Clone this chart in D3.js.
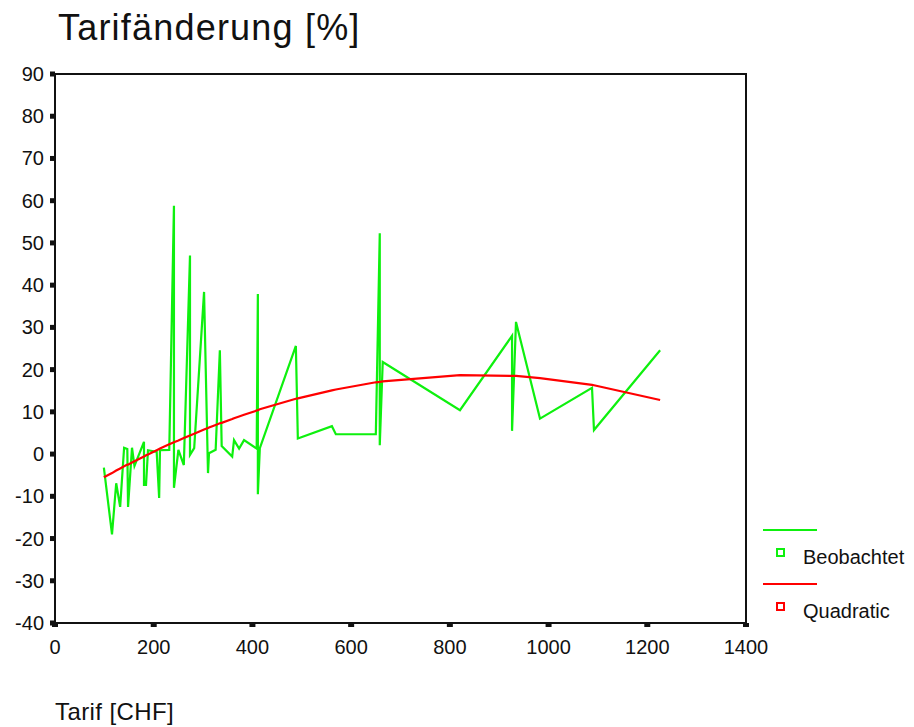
<!DOCTYPE html>
<html>
<head>
<meta charset="utf-8">
<script src="https://cdn.jsdelivr.net/npm/d3@7"></script>
<style>
  body { margin: 0; background: #fff; }
  svg { display: block; font-family: "Liberation Sans", Arial, sans-serif; }
  .frame { fill: none; stroke: #111; stroke-width: 2; }
  .tick { stroke: #111; }
  .lbl { font-size: 20px; fill: #111; }
</style>
</head>
<body>
<svg id="chart" width="914" height="727"></svg>
<script>
// observed tariffs (x, CHF) in plot order, and the observed change in %
const tarif = [99, 115.5, 124, 132, 140, 146.5, 148, 156, 161, 180.3, 180.3, 184.4, 188.4, 206, 211, 212.7,
  231.5, 241, 241, 250, 261, 273.5, 273.5, 282, 302, 310, 312, 325.5, 334, 337.7, 359, 362.7, 373, 383,
  408.6, 411, 411, 415, 488, 492, 561, 569, 650, 658, 658, 664, 820.5, 926, 926, 934, 982.6, 1088, 1092, 1226];
const beobachtet = [-3.2, -19, -6.9, -12.5, 1.5, 1.2, -12.5, 1.5, -2.8, 2.9, -7.3, -7.3, 0.9, 0.5, -10.4, 0.9,
  1, 58.8, -8, 1, -2.6, 47, -0.2, 1.4, 38.4, -4.5, 0.2, 1, 24.6, 1.9, -0.6, 3.3, 1.3, 3.3,
  1.3, 37.9, -9.5, 1.4, 25.6, 3.7, 6.6, 4.7, 4.7, 52.3, 2.1, 21.8, 10.4, 28, 5.5, 31.3, 8.4, 15.7, 5.7, 24.6];
// quadratic fit, at the same tariffs
const quadratic = [-5.5, -4.5, -3.9, -3.4, -2.9, -2.5, -2.5, -2.0, -1.7, -0.6, -0.6, -0.3, -0.1, 0.9, 1.2, 1.3,
  2.3, 2.8, 2.8, 3.2, 3.8, 4.4, 4.4, 4.8, 5.8, 6.2, 6.3, 6.9, 7.3, 7.4, 8.3, 8.5, 8.9, 9.3,
  10.3, 10.4, 10.4, 10.6, 13.1, 13.2, 15.1, 15.3, 17.0, 17.1, 17.1, 17.2, 18.7, 18.5, 18.5, 18.5, 18.0, 16.4, 16.3, 12.8];

const xTicks = [0, 200, 400, 600, 800, 1000, 1200, 1400];
const yTicks = [90, 80, 70, 60, 50, 40, 30, 20, 10, 0, -10, -20, -30, -40];
const legendItems = [
  { name: 'Beobachtet', color: '#0ef00e' },
  { name: 'Quadratic',  color: '#ff0000' }
];

const svg = d3.select('#chart');
const L = 55, R = 746, T = 74, B = 623;
const x = d3.scaleLinear().domain([0, 1400]).range([L, R]);
const y = d3.scaleLinear().domain([-40, 90]).range([B, T]);

// title and x caption (SPSS puts both at the left edge)
svg.append('text').attr('x', 58).attr('y', 40).attr('font-size', 36).attr('letter-spacing', 1.2)
  .attr('fill', '#111').text('Tarifänderung [%]');
svg.append('text').attr('x', 55).attr('y', 720).attr('font-size', 24).attr('letter-spacing', 0.4)
  .attr('fill', '#111').text('Tarif [CHF]');

// series
const pts = d3.range(tarif.length);
const line = vals => d3.line().x(i => x(tarif[i])).y(i => y(vals[i]))(pts);
svg.append('path').attr('d', line(beobachtet))
  .attr('fill', 'none').attr('stroke', legendItems[0].color).attr('stroke-width', 2.2);
svg.append('path').attr('d', line(quadratic))
  .attr('fill', 'none').attr('stroke', legendItems[1].color).attr('stroke-width', 2.2);

// frame
svg.append('rect').attr('class', 'frame').attr('x', L).attr('y', T).attr('width', R - L).attr('height', B - T);

// axes: tick squares outside the frame + labels
svg.append('g').selectAll('line').data(yTicks).join('line').attr('class', 'tick')
  .attr('x1', L - 5).attr('x2', L).attr('y1', d => y(d)).attr('y2', d => y(d)).attr('stroke-width', 5);
svg.append('g').selectAll('text').data(yTicks).join('text').attr('class', 'lbl')
  .attr('x', 44).attr('y', d => y(d) + 7).attr('text-anchor', 'end').text(d => d);
svg.append('g').selectAll('line').data(xTicks).join('line').attr('class', 'tick')
  .attr('x1', d => x(d)).attr('x2', d => x(d)).attr('y1', B).attr('y2', B + 4).attr('stroke-width', 6);
svg.append('g').selectAll('text').data(xTicks).join('text').attr('class', 'lbl')
  .attr('x', d => x(d)).attr('y', 654).attr('text-anchor', 'middle').text(d => d);

// legend: line sample, then hollow square + name
const lg = svg.append('g').selectAll('g').data(legendItems).join('g')
  .attr('transform', (d, i) => `translate(0,${530 + i * 54})`);
lg.append('line').attr('x1', 763).attr('x2', 817).attr('y1', 0).attr('y2', 0)
  .attr('stroke', d => d.color).attr('stroke-width', 2);
lg.append('rect').attr('x', 777).attr('y', 19).attr('width', 7).attr('height', 7)
  .attr('fill', 'none').attr('stroke', d => d.color).attr('stroke-width', 2);
lg.append('text').attr('class', 'lbl').attr('x', 803).attr('y', 34).attr('font-size', 21).text(d => d.name);
</script>
</body>
</html>
